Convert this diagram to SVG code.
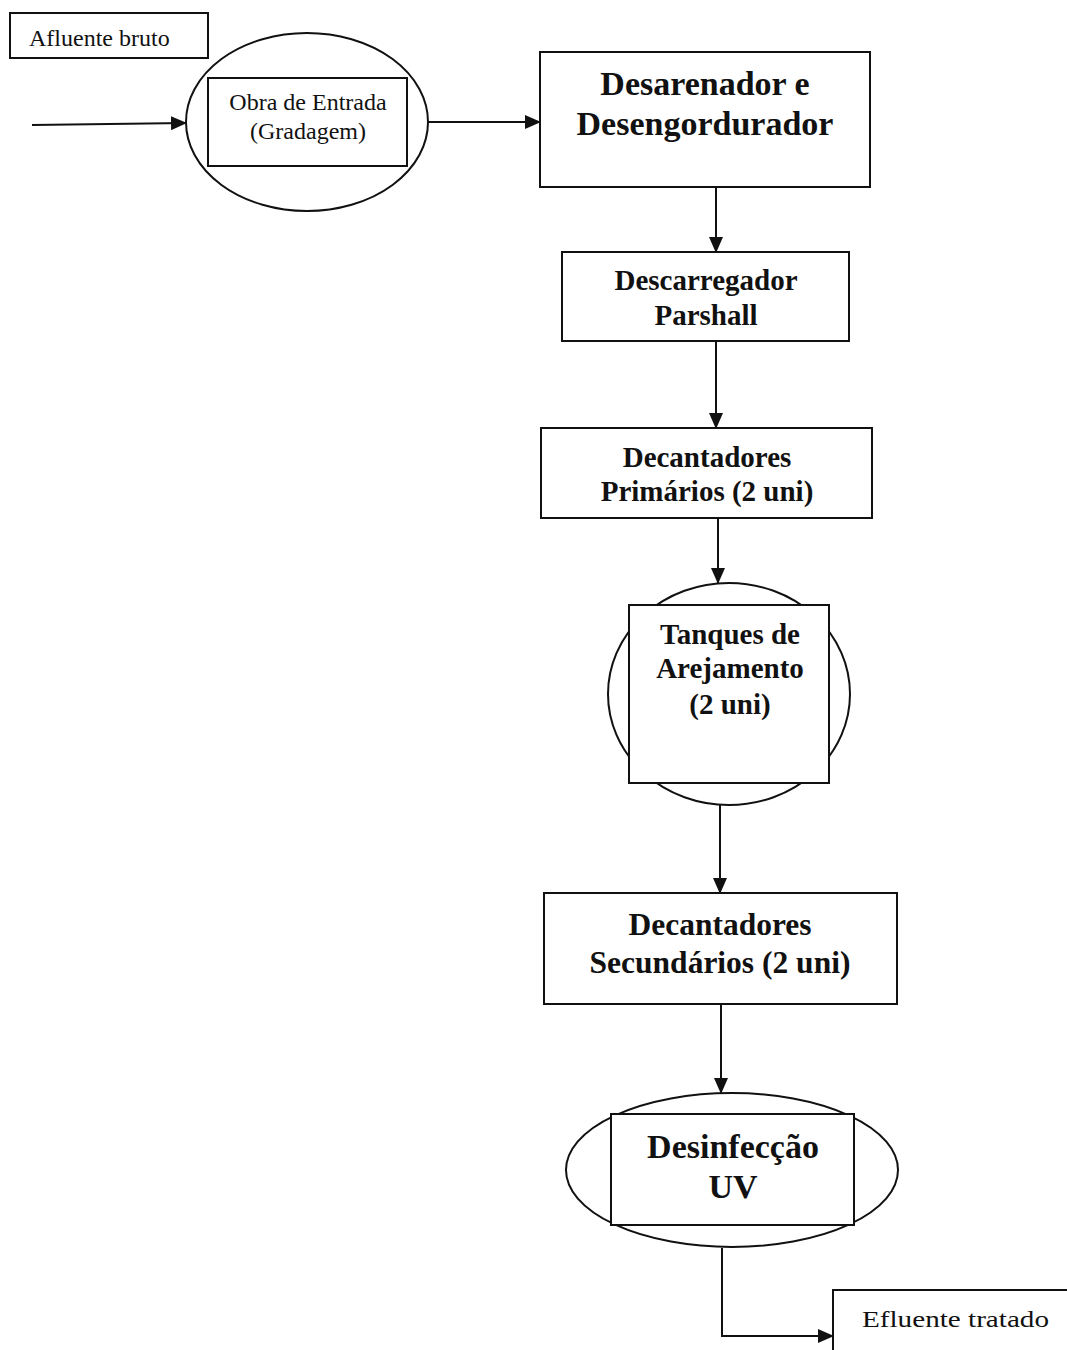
<svg xmlns="http://www.w3.org/2000/svg" width="1067" height="1350" viewBox="0 0 1067 1350">
  <defs>
    <marker id="arrow" markerWidth="16" markerHeight="14" refX="15" refY="7" orient="auto" markerUnits="userSpaceOnUse">
      <path d="M0,0 L16,7 L0,14 Z" fill="#111"/>
    </marker>
    <style>
      .box { fill: #fff; stroke: #111; stroke-width: 2; }
      .oval { fill: #fff; stroke: #111; stroke-width: 2; }
      .conn { fill: none; stroke: #111; stroke-width: 2; marker-end: url(#arrow); }
      .plain { font-family: "Liberation Serif", "Times New Roman", serif; font-size: 24px; fill: #111; }
      .bold { font-family: "Liberation Serif", "Times New Roman", serif; font-weight: bold; fill: #111; text-anchor: middle; }
    </style>
  </defs>
  <rect width="1067" height="1350" fill="#fff"/>

  <g id="connectors">
    <path class="conn" d="M32,125 L186,123"/>
    <path class="conn" d="M428,122 L540,122"/>
    <path class="conn" d="M716,187 L716,252"/>
    <path class="conn" d="M716,341 L716,428"/>
    <path class="conn" d="M718,518 L718,583"/>
    <path class="conn" d="M720,805 L720,893"/>
    <path class="conn" d="M721,1004 L721,1093"/>
    <path class="conn" d="M722,1248 L722,1336 L833,1336"/>
  </g>

  <g id="afluente-bruto">
    <rect class="box" x="10" y="13" width="198" height="45"/>
    <text class="plain" x="29" y="46">Afluente bruto</text>
  </g>

  <g id="obra-de-entrada">
    <ellipse class="oval" cx="307" cy="122" rx="121" ry="89"/>
    <rect class="box" x="208" y="78" width="199" height="88"/>
    <text class="plain" x="308" y="110" text-anchor="middle">Obra de Entrada</text>
    <text class="plain" x="308" y="139" text-anchor="middle">(Gradagem)</text>
  </g>

  <g id="desarenador">
    <rect class="box" x="540" y="52" width="330" height="135"/>
    <text class="bold" x="705" y="95" font-size="34">Desarenador e</text>
    <text class="bold" x="705" y="135" font-size="34">Desengordurador</text>
  </g>

  <g id="parshall">
    <rect class="box" x="562" y="252" width="287" height="89"/>
    <text class="bold" x="706" y="290" font-size="29">Descarregador</text>
    <text class="bold" x="706" y="325" font-size="29">Parshall</text>
  </g>

  <g id="decantadores-primarios">
    <rect class="box" x="541" y="428" width="331" height="90"/>
    <text class="bold" x="707" y="467" font-size="29">Decantadores</text>
    <text class="bold" x="707" y="501" font-size="29">Primários (2 uni)</text>
  </g>

  <g id="tanques-arejamento">
    <ellipse class="oval" cx="729" cy="694" rx="121" ry="111"/>
    <rect class="box" x="629" y="605" width="200" height="178"/>
    <text class="bold" x="730" y="644" font-size="29">Tanques de</text>
    <text class="bold" x="730" y="678" font-size="29">Arejamento</text>
    <text class="bold" x="730" y="714" font-size="29">(2 uni)</text>
  </g>

  <g id="decantadores-secundarios">
    <rect class="box" x="544" y="893" width="353" height="111"/>
    <text class="bold" x="720" y="935" font-size="31.5">Decantadores</text>
    <text class="bold" x="720" y="973" font-size="31.5">Secundários (2 uni)</text>
  </g>

  <g id="desinfeccao-uv">
    <ellipse class="oval" cx="732" cy="1170" rx="166" ry="77"/>
    <rect class="box" x="611" y="1114" width="243" height="111"/>
    <text class="bold" x="733" y="1158" font-size="34">Desinfecção</text>
    <text class="bold" x="733" y="1198" font-size="34">UV</text>
  </g>

  <g id="efluente-tratado">
    <rect class="box" x="833" y="1290" width="240" height="70"/>
    <text class="plain" x="862" y="1327" font-size="27" textLength="187" lengthAdjust="spacingAndGlyphs">Efluente tratado</text>
  </g>
</svg>
